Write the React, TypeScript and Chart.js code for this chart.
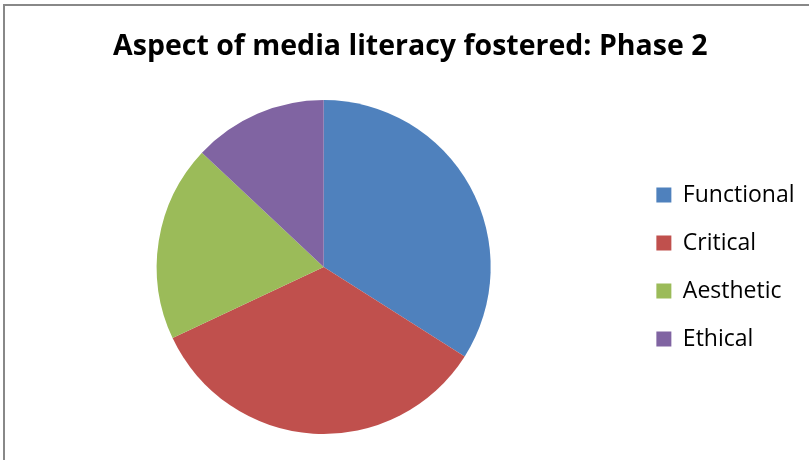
import React, { useEffect, useRef } from "react";
import { Chart, registerables } from "chart.js";

Chart.register(...registerables);

const categories = ["Functional", "Critical", "Aesthetic", "Ethical"];
const shares = [34, 34, 19, 13];
const colors = ["#4F81BD", "#C0504D", "#9BBB59", "#8064A2"];
const titleText = "Aspect of media literacy fostered: Phase 2";

export default function App() {
  const ref = useRef<HTMLCanvasElement | null>(null);
  useEffect(() => {
    if (!ref.current) return;
    const chart = new Chart(ref.current, {
      type: "pie",
      data: {
        labels: categories,
        datasets: [
          {
            data: shares,
            backgroundColor: colors,
            borderWidth: 0,
          },
        ],
      },
      options: {
        animation: false,
        responsive: false,
        layout: { padding: { left: 16, right: 4.5, top: 0, bottom: 26 } },
        plugins: {
          tooltip: { enabled: false },
          title: {
            display: true,
            text: titleText,
            color: "#000000",
            font: { family: "'Open Sans'", size: 28.5, weight: "bold", lineHeight: 1.2 },
            padding: { top: 30, bottom: 35.8 },
          },
          legend: {
            position: "right",
            fullSize: false,
            labels: {
              color: "#000000",
              font: { family: "'Open Sans'", size: 23, lineHeight: 1.2 },
              boxWidth: 15,
              boxHeight: 15,
              padding: 25,
            },
          },
        },
      },
    });
    return () => chart.destroy();
  }, []);
  return (
    <div style={{ position: "fixed", left: 0, top: 0, width: 809, height: 460, background: "#fff", overflow: "hidden" }}>
      <div
        style={{
          position: "absolute",
          left: 3,
          top: 4,
          width: 900,
          height: 600,
          borderLeft: "2px solid #888",
          borderTop: "2px solid #888",
          boxSizing: "border-box",
        }}
      />
      <canvas ref={ref} width={809} height={460} style={{ position: "absolute", left: 0, top: 0, width: 809, height: 460 }} />
    </div>
  );
}
